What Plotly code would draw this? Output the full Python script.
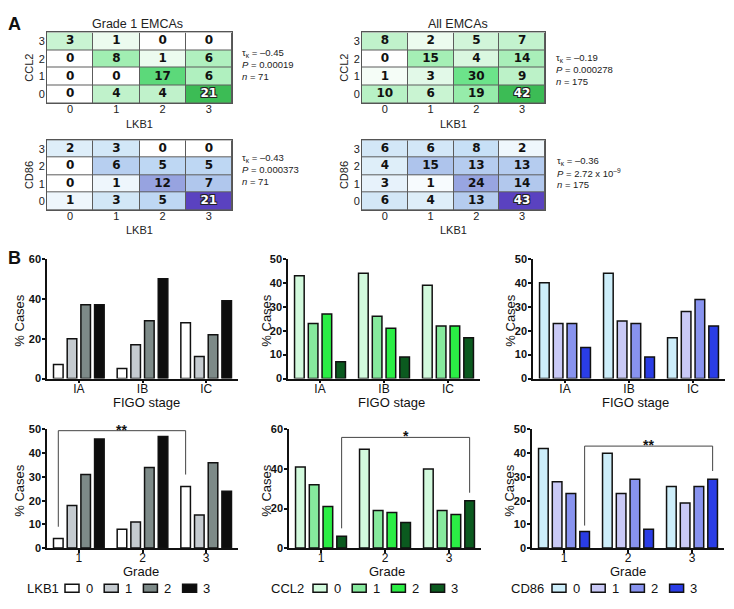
import plotly.graph_objects as go

W, H = 734, 609

# ---------------- DATA ----------------
lkb1_levels = ["0", "1", "2", "3"]
marker_levels = ["0", "1", "2", "3"]

# heatmaps: rows = marker level 0..3 (bottom->top), cols = LKB1 0..3
ccl2_grade1 = [[0, 4, 4, 21], [0, 0, 17, 6], [0, 8, 1, 6], [3, 1, 0, 0]]
ccl2_all = [[10, 6, 19, 42], [1, 3, 30, 9], [0, 15, 4, 14], [8, 2, 5, 7]]
cd86_grade1 = [[1, 3, 5, 21], [0, 1, 12, 7], [0, 6, 5, 5], [2, 3, 0, 0]]
cd86_all = [[6, 4, 13, 43], [3, 1, 24, 14], [4, 15, 13, 13], [6, 6, 8, 2]]

heatmap_titles = ["Grade 1 EMCAs", "All EMCAs"]
stats_tau = ["–0.45", "–0.19", "–0.43", "–0.36"]
stats_p = ["0.00019", "0.000278", "0.000373", "2.72 x 10<sup>–9</sup>"]
stats_n = ["71", "175", "71", "175"]

figo_stages = ["IA", "IB", "IC"]
grades = ["1", "2", "3"]

# bar values: one list per expression level (0,1,2,3), values per category
lkb1_figo = [[7, 5, 28], [20, 17, 11], [37, 29, 22], [37, 50, 39]]
ccl2_figo = [[43, 44, 39], [23, 26, 22], [27, 21, 22], [7, 9, 17]]
cd86_figo = [[40, 44, 17], [23, 24, 28], [23, 23, 33], [13, 9, 22]]
lkb1_grade = [[4, 8, 26], [18, 11, 14], [31, 34, 36], [46, 47, 24]]
ccl2_grade = [[41, 50, 40], [32, 19, 19], [21, 18, 17], [6, 13, 24]]
cd86_grade = [[42, 40, 26], [28, 23, 19], [23, 29, 26], [7, 8, 29]]

# significance brackets
sig_lkb1 = dict(c0="1", l0=0, c1="3", l1=0, label="**", top=49.5, e0=9, e1=31)
sig_ccl2 = dict(c0="1", l0=3, c1="3", l1=3, label="*", top=56, e0=10, e1=28)
sig_cd86 = dict(c0="1", l0=3, c1="3", l1=3, label="**", top=43, e0=9.5, e1=32.5)

# ---------------- STYLE ----------------
lkb1_colors = ["#ffffff", "#c5cbd0", "#7d8a88", "#0d0d0d"]
ccl2_colors = ["#d2fadd", "#86e99d", "#2bee45", "#0b5a1f"]
cd86_colors = ["#cdeefa", "#c9c9f6", "#8893ef", "#2a3de6"]

green_scale = [[0, "#ffffff"], [0.07, "#e3f9e8"], [0.15, "#c6f3d0"], [0.4, "#9eeeb0"],
               [0.75, "#66e286"], [1, "#3cbc55"]]
blue_scale = [[0, "#ffffff"], [0.1, "#dcedf9"], [0.2, "#c4def5"], [0.35, "#aec4ec"],
              [0.57, "#97a3e0"], [1, "#5a42c0"]]

BARGAP = 0.14
BARGROUPGAP = 0.3
SANS = "Liberation Sans, Arial, sans-serif"
CELL = "DejaVu Sans, Verdana, sans-serif"


def X(px):
    return px / W


def Y(py):
    return 1 - py / H


fig = go.Figure()
layout = dict(width=W, height=H, margin=dict(l=0, r=0, t=0, b=0),
              paper_bgcolor="white", plot_bgcolor="white", showlegend=False,
              barmode="group", bargap=BARGAP, bargroupgap=BARGROUPGAP,
              font=dict(family=SANS, color="#111", size=11))
shapes, annotations = [], []


def ann(text, px, py, size, xanchor="center", yanchor="middle", textangle=0,
        bold=False, color="#111", family=SANS):
    annotations.append(dict(text=text, x=X(px), y=Y(py), xref="paper", yref="paper",
                            showarrow=False, xanchor=xanchor, yanchor=yanchor,
                            textangle=textangle,
                            font=dict(size=size, color=color, family=family,
                                      weight="bold" if bold else "normal")))


def axis_names(i):
    return ("x" if i == 1 else f"x{i}"), ("y" if i == 1 else f"y{i}")


# ---------------- HEATMAPS ----------------
hm_specs = [
    (ccl2_grade1, "CCL2", green_scale, (47, 232, 27, 99), 0, (240, 48)),
    (ccl2_all, "CCL2", green_scale, (362, 545, 27, 99), 1, (554, 53)),
    (cd86_grade1, "CD86", blue_scale, (47, 232, 137, 208), 2, (240, 155)),
    (cd86_all, "CD86", blue_scale, (362, 545, 137, 208), 3, (555, 158)),
]
shadow = "1px 1px 0 #222, -1px -1px 0 #222, 1px -1px 0 #222, -1px 1px 0 #222"

for k, (z, ylab, cs, (x0, x1, y0, y1), si, (sx, sy)) in enumerate(hm_specs):
    i = k + 1
    xa, ya = axis_names(i)
    zmax = max(max(r) for r in z)
    fig.add_trace(go.Heatmap(z=z, x=lkb1_levels, y=marker_levels, colorscale=cs,
                             zmin=0, zmax=zmax, showscale=False, xgap=1, ygap=1,
                             hoverinfo="skip", xaxis=xa, yaxis=ya))
    cells = [(lkb1_levels[c], marker_levels[r], v) for r, row in enumerate(z)
             for c, v in enumerate(row)]
    norm = [cl for cl in cells if cl[2] != zmax]
    top = [cl for cl in cells if cl[2] == zmax]
    fig.add_trace(go.Scatter(x=[c[0] for c in norm], y=[c[1] for c in norm], mode="text",
                             text=[str(c[2]) for c in norm],
                             textfont=dict(family=CELL, size=12, color="#111", weight="bold"),
                             hoverinfo="skip", xaxis=xa, yaxis=ya))
    fig.add_trace(go.Scatter(x=[c[0] for c in top], y=[c[1] for c in top], mode="text",
                             text=[str(c[2]) for c in top],
                             textfont=dict(family=CELL, size=12, color="white",
                                           weight="bold", shadow=shadow),
                             hoverinfo="skip", xaxis=xa, yaxis=ya))
    layout["xaxis" if i == 1 else f"xaxis{i}"] = dict(
        domain=[X(x0), X(x1)], anchor=ya, type="category", range=[-0.5, 3.5],
        showline=True, mirror=True, linecolor="#555", linewidth=1, ticks="",
        ticklabelstandoff=-4,
        showgrid=False, zeroline=False, tickfont=dict(size=11, color="#222"))
    layout["yaxis" if i == 1 else f"yaxis{i}"] = dict(
        domain=[Y(y1), Y(y0)], anchor=xa, type="category", range=[-0.5, 3.5],
        showline=True, mirror=True, linecolor="#555", linewidth=1, ticks="",
        ticklabelstandoff=-1,
        showgrid=False, zeroline=False, tickfont=dict(size=11, color="#222"))
    shapes.append(dict(type="rect", xref=f"{xa} domain", yref=f"{ya} domain",
                       x0=0, x1=1, y0=0, y1=1, fillcolor="#5c5c5c",
                       line=dict(width=0), layer="below"))
    ann("LKB1", (x0 + x1) / 2, y1 + 21, 11, color="#222")
    ann(ylab, x0 - 18, (y0 + y1) / 2, 11, textangle=-90, color="#222")
    ann(f"τ<sub>κ</sub> = {stats_tau[si]}", sx, sy, 9.5, xanchor="left", color="#222")
    ann(f"<i>P</i> = {stats_p[si]}", sx, sy + 12, 9.5, xanchor="left", color="#222")
    ann(f"<i>n</i> = {stats_n[si]}", sx, sy + 24, 9.5, xanchor="left", color="#222")

ann(heatmap_titles[0], 137, 18, 12.5, color="#222")
ann(heatmap_titles[1], 458, 18, 12.5, color="#222")
ann("A", 14, 18, 18, bold=True)
ann("B", 14, 257, 18, bold=True)

# ---------------- BAR CHARTS ----------------
bar_specs = [
    (lkb1_figo, figo_stages, lkb1_colors, 60, 20, (47, 238, 258, 380), "FIGO stage", 20, 146, None),
    (ccl2_figo, figo_stages, ccl2_colors, 50, 10, (288, 480, 258, 380), "FIGO stage", 267, 391, None),
    (cd86_figo, figo_stages, cd86_colors, 50, 10, (533, 725, 258, 380), "FIGO stage", 511, 635, None),
    (lkb1_grade, grades, lkb1_colors, 50, 10, (47, 238, 432, 553), "Grade", 20, 141, sig_lkb1),
    (ccl2_grade, grades, ccl2_colors, 60, 20, (289, 481, 432, 553), "Grade", 267, 387, sig_ccl2),
    (cd86_grade, grades, cd86_colors, 50, 10, (532, 724, 432, 553), "Grade", 510, 628, sig_cd86),
]


def bar_center(cat_list, cat, level, n=4):
    slot = (1 - BARGAP) / n
    return cat_list.index(cat) - (1 - BARGAP) / 2 + (level + 0.5) * slot


for k, (vals, cats, cols, ymax, dt, (x0, x1, y0, y1), xtitle, ytx, xtx, sig) in enumerate(bar_specs):
    i = k + 5
    xa, ya = axis_names(i)
    for lvl, (v, c) in enumerate(zip(vals, cols)):
        fig.add_trace(go.Bar(x=cats, y=v, marker=dict(color=c, line=dict(color="#111", width=1.5)),
                             name=str(lvl), hoverinfo="skip", xaxis=xa, yaxis=ya))
    layout[f"xaxis{i}"] = dict(domain=[X(x0), X(x1)], anchor=ya, type="category",
                               range=[-0.5, 2.5], showline=True, linecolor="#111", linewidth=1.5,
                               ticks="outside", ticklen=3, tickwidth=1.5, tickcolor="#111",
                               ticklabelstandoff=-5,
                               showgrid=False, zeroline=False, tickfont=dict(size=12, color="#111"))
    layout[f"yaxis{i}"] = dict(domain=[Y(y1), Y(y0)], anchor=xa, range=[0, ymax],
                               tickvals=list(range(0, ymax + 1, dt)), showline=True,
                               linecolor="#111", linewidth=1.5, ticks="outside", ticklen=3,
                               tickwidth=1.5, tickcolor="#111", showgrid=False, zeroline=False,
                               ticklabelstandoff=-1,
                               tickfont=dict(size=11, color="#111", weight="bold"))
    ann("% Cases", ytx, (y0 + y1) / 2 + 2, 13, textangle=-90)
    ann(xtitle, xtx, y1 + 24, 13)
    if sig:
        xs0 = bar_center(cats, sig["c0"], sig["l0"])
        xs1 = bar_center(cats, sig["c1"], sig["l1"])
        for (a0, b0, a1, b1) in [(xs0, sig["e0"], xs0, sig["top"]),
                                 (xs0, sig["top"], xs1, sig["top"]),
                                 (xs1, sig["top"], xs1, sig["e1"])]:
            shapes.append(dict(type="line", xref=xa, yref=ya, x0=a0, y0=b0, x1=a1, y1=b1,
                               line=dict(color="#444", width=1)))
        annotations.append(dict(text=sig["label"], x=(xs0 + xs1) / 2, y=sig["top"],
                                xref=xa, yref=ya, showarrow=False, yanchor="bottom",
                                yshift=-9, font=dict(size=14, weight="bold", color="#111")))

# ---------------- LEGENDS ----------------
legend_specs = [("LKB1", lkb1_colors, 43, 65), ("CCL2", ccl2_colors, 287, 313), ("CD86", cd86_colors, 527, 552)]
for title, cols, tx, bx in legend_specs:
    ann(title, tx, 594, 13)
    for j, c in enumerate(cols):
        left = bx + j * 39.2
        shapes.append(dict(type="rect", xref="paper", yref="paper", x0=X(left), x1=X(left + 14),
                           y0=Y(598), y1=Y(590), fillcolor=c, line=dict(color="#111", width=1.5)))
        ann(lkb1_levels[j], left + 24, 594, 13)

layout["shapes"] = shapes
layout["annotations"] = annotations
fig.update_layout(**layout)
fig.write_html("out.html", post_script="document.body.style.margin='0px';",
               config={"displayModeBar": False})
